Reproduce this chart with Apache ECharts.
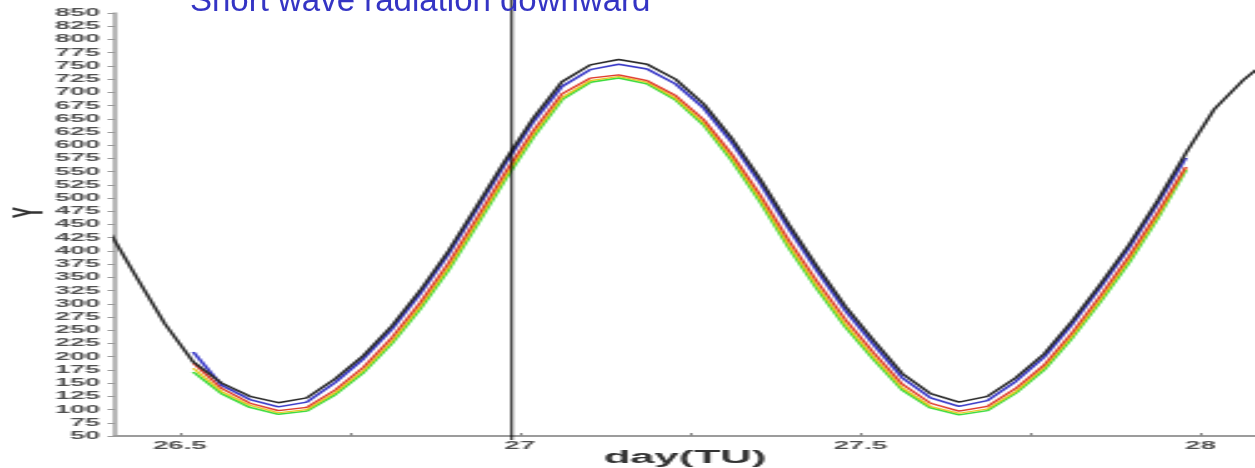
<!DOCTYPE html>
<html>
<head>
<meta charset="utf-8">
<script src="https://cdn.jsdelivr.net/npm/echarts@6/dist/echarts.min.js"></script>
<style>
  html, body { margin: 0; padding: 0; background: #ffffff; overflow: hidden; }
  #wrap { position: relative; width: 1255px; height: 468px; }
  /* the plot is laid out narrow and widened horizontally */
  #plot { position: absolute; left: 0; top: 0; width: 502px; height: 468px;
          transform: scaleX(2.5); transform-origin: 0 0; }
  #head { position: absolute; left: 0; top: 0; width: 1255px; height: 468px; pointer-events: none; }
</style>
</head>
<body>
<div id="wrap">
  <div id="plot"></div>
  <div id="head"></div>
</div>
<script>
// Time axis (day, TU), hourly samples
var dayFull = [26.3533, 26.3950, 26.4367, 26.4783,
  26.5200, 26.5617, 26.6033, 26.6450, 26.6867, 26.7283, 26.7700, 26.8117, 26.8533, 26.8950,
  26.9367, 26.9783, 27.0200, 27.0617, 27.1033, 27.1450, 27.1867, 27.2283, 27.2700, 27.3117,
  27.3533, 27.3950, 27.4367, 27.4783, 27.5200, 27.5617, 27.6033, 27.6450, 27.6867, 27.7283,
  27.7700, 27.8117, 27.8533, 27.8950, 27.9367, 27.9783,
  28.0200, 28.0617, 28.1033];

var dayRun = [26.5200, 26.5617, 26.6033, 26.6450, 26.6867, 26.7283, 26.7700, 26.8117, 26.8533, 26.8950,
  26.9367, 26.9783, 27.0200, 27.0617, 27.1033, 27.1450, 27.1867, 27.2283, 27.2700, 27.3117,
  27.3533, 27.3950, 27.4367, 27.4783, 27.5200, 27.5617, 27.6033, 27.6450, 27.6867, 27.7283,
  27.7700, 27.8117, 27.8533, 27.8950, 27.9367, 27.9783];

// Shortwave radiation downward (Y)
var swBlack = [525, 440, 350, 262,
  190, 150, 125, 113, 122, 158, 202, 258, 325, 400,
  485, 571, 652, 720, 752, 762, 753, 725, 678, 612,
  535, 450, 370, 295, 230, 168, 130, 114, 125, 160,
  205, 268, 338, 412, 495, 585,
  668, 722, 765];

var swBlue = [209, 146, 119, 105, 114, 151, 196, 252, 319, 394,
  479, 565, 645, 711, 743, 753, 744, 716, 670, 604,
  527, 442, 362, 287, 222, 160, 122, 106, 117, 153,
  199, 262, 332, 406, 489, 576];

var swRed = [188, 140, 112, 98, 104, 137, 180, 236, 302, 377,
  462, 548, 628, 697, 727, 733, 722, 694, 648, 582,
  505, 420, 342, 270, 207, 148, 112, 97, 106, 140,
  184, 246, 316, 390, 472, 559];

var swYellow = [178, 134, 108, 94, 100, 132, 174, 229, 295, 369,
  454, 540, 621, 690, 722, 730, 719, 689, 642, 575,
  497, 411, 333, 261, 199, 141, 106, 93, 101, 134,
  179, 240, 309, 383, 465, 556];

var swGreen = [171, 130, 104, 91, 97, 128, 170, 225, 290, 364,
  449, 535, 616, 686, 719, 727, 716, 686, 638, 570,
  492, 406, 328, 256, 194, 137, 103, 90, 98, 131,
  175, 236, 305, 378, 461, 553];

// cursor position (day)
var cursorDay = [26.988];

var xTicks = [26.5, 26.75, 27, 27.25, 27.5, 27.75, 28];
var xLabels = [26.5, 27, 27.5, 28];

function pairs(xs, ys) {
  return ys.map(function (v, i) { return [xs[i], v]; });
}

var xMin = 26.405, xMax = 28.08;

function lineSeries(name, xs, ys, color, width) {
  return {
    name: name,
    type: 'line',
    xAxisIndex: 0,
    yAxisIndex: 0,
    data: pairs(xs, ys),
    showSymbol: false,
    symbol: 'none',
    clip: true,
    lineStyle: { color: color, width: width },
    emphasis: { disabled: true }
  };
}

var plot = echarts.init(document.getElementById('plot'), null, { renderer: 'canvas' });
plot.setOption({
  animation: false,
  backgroundColor: '#ffffff',
  grid: [
    { left: 46, right: 0, top: 13, bottom: 32, containLabel: false, outerBoundsMode: 'none' },
    { left: 46, right: 0, top: 0, bottom: 28, containLabel: false, outerBoundsMode: 'none' }
  ],
  xAxis: [{
    type: 'value',
    gridIndex: 0,
    min: xMin,
    max: xMax,
    axisLine: { show: true, onZero: false, lineStyle: { color: '#9c9c9c', width: 2 } },
    axisTick: { show: true, inside: true, length: 3, customValues: xTicks,
                lineStyle: { color: '#8a8a8a', width: 1 } },
    axisLabel: { show: true, customValues: xLabels, margin: 4,
                 fontFamily: 'Liberation Sans', fontSize: 11, fontWeight: 'bold', color: '#505050' },
    splitLine: { show: false },
    name: 'day(TU)',
    nameLocation: 'middle',
    nameGap: 13,
    nameMoveOverlap: false,
    nameTextStyle: { fontFamily: 'Liberation Sans', fontSize: 17.5, fontWeight: 'bold', color: '#333333' }
  }, {
    type: 'value',
    gridIndex: 1,
    min: xMin,
    max: xMax,
    show: false
  }],
  yAxis: [{
    type: 'value',
    gridIndex: 0,
    min: 50,
    max: 850,
    interval: 25,
    axisLine: { show: true, onZero: false, lineStyle: { color: '#a4a4a4', width: 1.6 } },
    axisTick: { show: true, inside: false, length: 3, lineStyle: { color: '#9a9a9a', width: 1 } },
    axisLabel: { show: true, margin: 6, fontFamily: 'Liberation Sans', fontSize: 10.8,
                 fontWeight: 'bold', color: '#505050' },
    splitLine: { show: false },
    name: 'Y',
    nameLocation: 'middle',
    nameRotate: 90,
    nameGap: 25,
    nameMoveOverlap: false,
    nameTextStyle: { fontFamily: 'Liberation Sans', fontSize: 17, fontWeight: 'bold', color: '#333333',
                     padding: [0, 0, 0, 24] }
  }, {
    type: 'value',
    gridIndex: 1,
    min: 0,
    max: 1,
    show: false
  }],
  series: [
    lineSeries('green', dayRun, swGreen, '#3cdc3c', 1.5),
    lineSeries('yellow', dayRun, swYellow, '#e8c81a', 1.2),
    lineSeries('red', dayRun, swRed, '#e03a2a', 1.3),
    lineSeries('blue', dayRun, swBlue, '#3a3ac8', 1.5),
    lineSeries('black', dayFull, swBlack, '#2a2a2a', 1.5),
    {
      name: 'cursor',
      type: 'line',
      xAxisIndex: 1,
      yAxisIndex: 1,
      data: [[cursorDay[0], 0], [cursorDay[0], 1]],
      showSymbol: false,
      symbol: 'none',
      lineStyle: { color: '#000000', width: 0.9 },
      emphasis: { disabled: true }
    }
  ]
});

var head = echarts.init(document.getElementById('head'), null, { renderer: 'canvas' });
head.setOption({
  animation: false,
  backgroundColor: 'transparent',
  title: {
    text: 'Short wave radiation downward',
    left: 190,
    top: -15,
    padding: 0,
    textStyle: { fontFamily: 'Liberation Sans', fontSize: 33, fontWeight: 'normal', color: '#3434c4' }
  }
});
</script>
</body>
</html>
